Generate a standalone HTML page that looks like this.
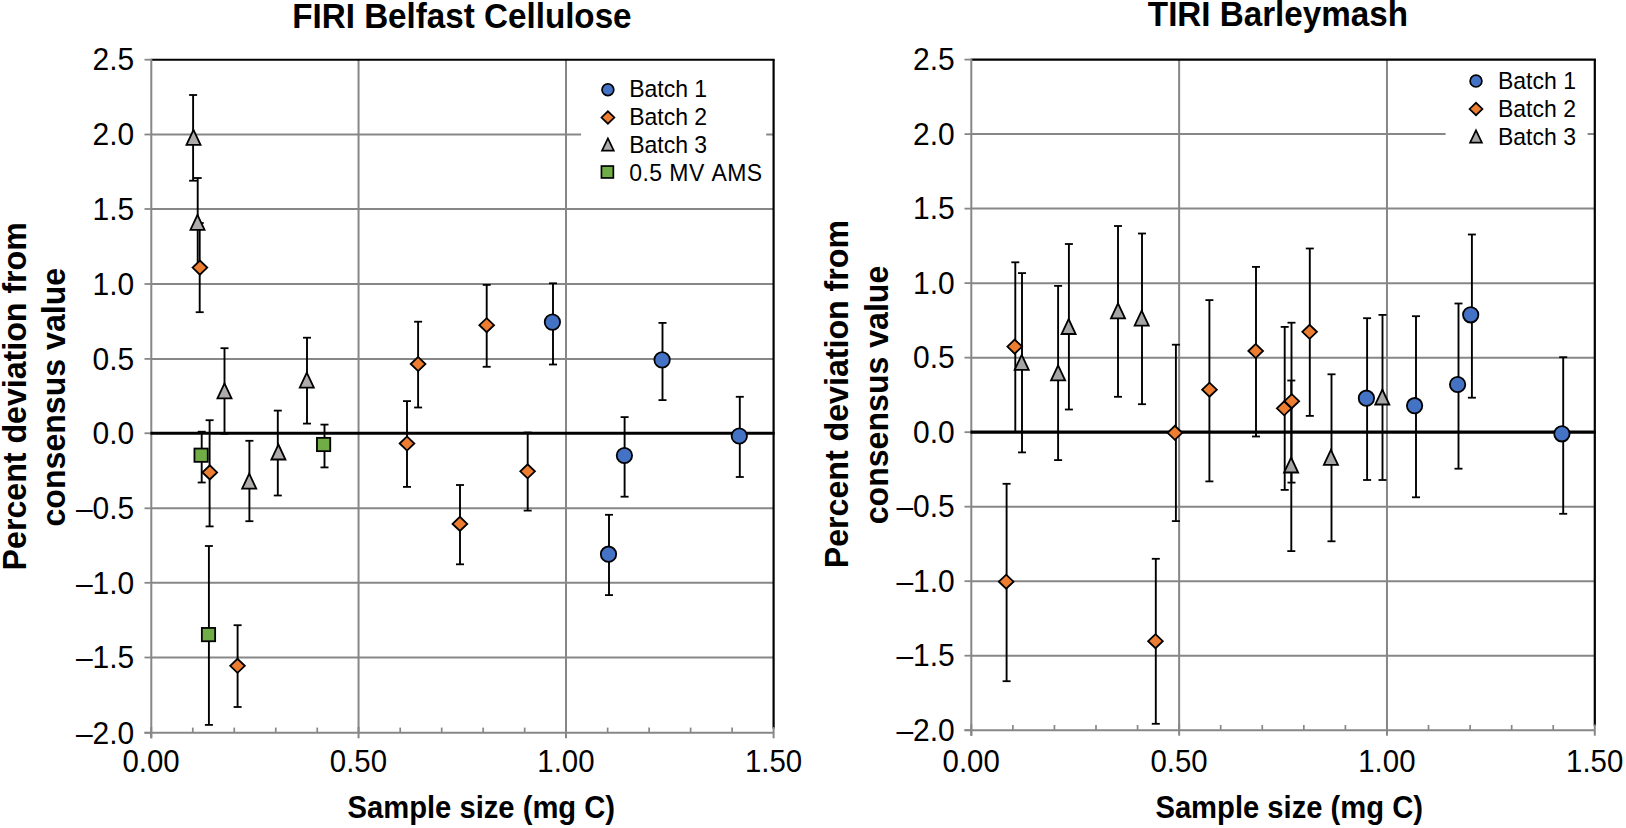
<!DOCTYPE html>
<html lang="en"><head><meta charset="utf-8"><title>Percent deviation from consensus value</title>
<style>html,body{margin:0;padding:0;background:#fff;overflow:hidden}svg{display:block}text{font-kerning:none}</style></head>
<body>
<svg width="1626" height="828" viewBox="0 0 1626 828" font-family="'Liberation Sans', Arial, Helvetica, sans-serif" fill="#000">
<rect width="1626" height="828" fill="#fff"/>
<g id="left">
<line x1="151.3" y1="134.5" x2="773.6" y2="134.5" stroke="#878787" stroke-width="2"/>
<line x1="151.3" y1="209" x2="773.6" y2="209" stroke="#878787" stroke-width="2"/>
<line x1="151.3" y1="284" x2="773.6" y2="284" stroke="#878787" stroke-width="2"/>
<line x1="151.3" y1="358.9" x2="773.6" y2="358.9" stroke="#878787" stroke-width="2"/>
<line x1="151.3" y1="508.3" x2="773.6" y2="508.3" stroke="#878787" stroke-width="2"/>
<line x1="151.3" y1="582.8" x2="773.6" y2="582.8" stroke="#878787" stroke-width="2"/>
<line x1="151.3" y1="657.5" x2="773.6" y2="657.5" stroke="#878787" stroke-width="2"/>
<line x1="358.55" y1="59.7" x2="358.55" y2="732.8" stroke="#878787" stroke-width="2"/>
<line x1="566" y1="59.7" x2="566" y2="732.8" stroke="#878787" stroke-width="2"/>
<rect x="581" y="66" width="185.2" height="128" fill="#fff"/>
<line x1="151.3" y1="59.7" x2="774.7" y2="59.7" stroke="#000" stroke-width="2.1"/>
<line x1="773.6" y1="59.7" x2="773.6" y2="728.6" stroke="#000" stroke-width="2.2"/>
<line x1="151.3" y1="58.7" x2="151.3" y2="738.3" stroke="#878787" stroke-width="2"/>
<line x1="144.5" y1="732.8" x2="773.6" y2="732.8" stroke="#878787" stroke-width="2"/>
<line x1="144.5" y1="59.7" x2="151.3" y2="59.7" stroke="#878787" stroke-width="1.8"/>
<line x1="144.5" y1="134.5" x2="151.3" y2="134.5" stroke="#878787" stroke-width="1.8"/>
<line x1="144.5" y1="209" x2="151.3" y2="209" stroke="#878787" stroke-width="1.8"/>
<line x1="144.5" y1="284" x2="151.3" y2="284" stroke="#878787" stroke-width="1.8"/>
<line x1="144.5" y1="358.9" x2="151.3" y2="358.9" stroke="#878787" stroke-width="1.8"/>
<line x1="144.5" y1="433.25" x2="151.3" y2="433.25" stroke="#878787" stroke-width="1.8"/>
<line x1="144.5" y1="508.3" x2="151.3" y2="508.3" stroke="#878787" stroke-width="1.8"/>
<line x1="144.5" y1="582.8" x2="151.3" y2="582.8" stroke="#878787" stroke-width="1.8"/>
<line x1="144.5" y1="657.5" x2="151.3" y2="657.5" stroke="#878787" stroke-width="1.8"/>
<line x1="144.5" y1="732.8" x2="151.3" y2="732.8" stroke="#878787" stroke-width="1.8"/>
<line x1="151.2" y1="727" x2="151.2" y2="738.3" stroke="#878787" stroke-width="2"/>
<line x1="358.55" y1="727" x2="358.55" y2="738.3" stroke="#878787" stroke-width="2"/>
<line x1="566" y1="727" x2="566" y2="738.3" stroke="#878787" stroke-width="2"/>
<line x1="773.6" y1="727" x2="773.6" y2="738.3" stroke="#878787" stroke-width="2"/>
<line x1="192.79" y1="727.6" x2="192.79" y2="732.8" stroke="#878787" stroke-width="1.7"/>
<line x1="234.27" y1="727.6" x2="234.27" y2="732.8" stroke="#878787" stroke-width="1.7"/>
<line x1="275.76" y1="727.6" x2="275.76" y2="732.8" stroke="#878787" stroke-width="1.7"/>
<line x1="317.25" y1="727.6" x2="317.25" y2="732.8" stroke="#878787" stroke-width="1.7"/>
<line x1="400.22" y1="727.6" x2="400.22" y2="732.8" stroke="#878787" stroke-width="1.7"/>
<line x1="441.71" y1="727.6" x2="441.71" y2="732.8" stroke="#878787" stroke-width="1.7"/>
<line x1="483.19" y1="727.6" x2="483.19" y2="732.8" stroke="#878787" stroke-width="1.7"/>
<line x1="524.68" y1="727.6" x2="524.68" y2="732.8" stroke="#878787" stroke-width="1.7"/>
<line x1="607.65" y1="727.6" x2="607.65" y2="732.8" stroke="#878787" stroke-width="1.7"/>
<line x1="649.14" y1="727.6" x2="649.14" y2="732.8" stroke="#878787" stroke-width="1.7"/>
<line x1="690.63" y1="727.6" x2="690.63" y2="732.8" stroke="#878787" stroke-width="1.7"/>
<line x1="732.11" y1="727.6" x2="732.11" y2="732.8" stroke="#878787" stroke-width="1.7"/>
<line x1="150.4" y1="433.25" x2="774.7" y2="433.25" stroke="#000" stroke-width="3.1"/>
<text transform="translate(134.3 70.4) scale(1 1.02)" font-size="30" text-anchor="end" font-weight="normal">2.5</text>
<text transform="translate(134.3 145.2) scale(1 1.02)" font-size="30" text-anchor="end" font-weight="normal">2.0</text>
<text transform="translate(134.3 219.7) scale(1 1.02)" font-size="30" text-anchor="end" font-weight="normal">1.5</text>
<text transform="translate(134.3 294.7) scale(1 1.02)" font-size="30" text-anchor="end" font-weight="normal">1.0</text>
<text transform="translate(134.3 369.6) scale(1 1.02)" font-size="30" text-anchor="end" font-weight="normal">0.5</text>
<text transform="translate(134.3 443.95) scale(1 1.02)" font-size="30" text-anchor="end" font-weight="normal">0.0</text>
<text transform="translate(134.3 519) scale(1 1.02)" font-size="30" text-anchor="end" font-weight="normal">–0.5</text>
<text transform="translate(134.3 593.5) scale(1 1.02)" font-size="30" text-anchor="end" font-weight="normal">–1.0</text>
<text transform="translate(134.3 668.2) scale(1 1.02)" font-size="30" text-anchor="end" font-weight="normal">–1.5</text>
<text transform="translate(134.3 743.5) scale(1 1.02)" font-size="30" text-anchor="end" font-weight="normal">–2.0</text>
<text transform="translate(151.1 772) scale(1 1.04)" font-size="29.4" text-anchor="middle" font-weight="normal">0.00</text>
<text transform="translate(358.45 772) scale(1 1.04)" font-size="29.4" text-anchor="middle" font-weight="normal">0.50</text>
<text transform="translate(565.9 772) scale(1 1.04)" font-size="29.4" text-anchor="middle" font-weight="normal">1.00</text>
<text transform="translate(773.5 772) scale(1 1.04)" font-size="29.4" text-anchor="middle" font-weight="normal">1.50</text>
<line x1="553" y1="283.3" x2="553" y2="364.5" stroke="#000" stroke-width="1.9"/>
<line x1="549" y1="283.3" x2="557" y2="283.3" stroke="#000" stroke-width="1.8"/>
<line x1="549" y1="364.5" x2="557" y2="364.5" stroke="#000" stroke-width="1.8"/>
<line x1="662.5" y1="322.9" x2="662.5" y2="400.1" stroke="#000" stroke-width="1.9"/>
<line x1="658.5" y1="322.9" x2="666.5" y2="322.9" stroke="#000" stroke-width="1.8"/>
<line x1="658.5" y1="400.1" x2="666.5" y2="400.1" stroke="#000" stroke-width="1.8"/>
<line x1="609" y1="514.8" x2="609" y2="595.1" stroke="#000" stroke-width="1.9"/>
<line x1="605" y1="514.8" x2="613" y2="514.8" stroke="#000" stroke-width="1.8"/>
<line x1="605" y1="595.1" x2="613" y2="595.1" stroke="#000" stroke-width="1.8"/>
<line x1="624.6" y1="417.1" x2="624.6" y2="496.7" stroke="#000" stroke-width="1.9"/>
<line x1="620.6" y1="417.1" x2="628.6" y2="417.1" stroke="#000" stroke-width="1.8"/>
<line x1="620.6" y1="496.7" x2="628.6" y2="496.7" stroke="#000" stroke-width="1.8"/>
<line x1="739.8" y1="396.8" x2="739.8" y2="477" stroke="#000" stroke-width="1.9"/>
<line x1="735.8" y1="396.8" x2="743.8" y2="396.8" stroke="#000" stroke-width="1.8"/>
<line x1="735.8" y1="477" x2="743.8" y2="477" stroke="#000" stroke-width="1.8"/>
<line x1="199.7" y1="223" x2="199.7" y2="312.2" stroke="#000" stroke-width="1.9"/>
<line x1="195.7" y1="223" x2="203.7" y2="223" stroke="#000" stroke-width="1.8"/>
<line x1="195.7" y1="312.2" x2="203.7" y2="312.2" stroke="#000" stroke-width="1.8"/>
<line x1="209.6" y1="420.2" x2="209.6" y2="526.4" stroke="#000" stroke-width="1.9"/>
<line x1="205.6" y1="420.2" x2="213.6" y2="420.2" stroke="#000" stroke-width="1.8"/>
<line x1="205.6" y1="526.4" x2="213.6" y2="526.4" stroke="#000" stroke-width="1.8"/>
<line x1="237.6" y1="625.2" x2="237.6" y2="707" stroke="#000" stroke-width="1.9"/>
<line x1="233.6" y1="625.2" x2="241.6" y2="625.2" stroke="#000" stroke-width="1.8"/>
<line x1="233.6" y1="707" x2="241.6" y2="707" stroke="#000" stroke-width="1.8"/>
<line x1="407" y1="401.1" x2="407" y2="486.9" stroke="#000" stroke-width="1.9"/>
<line x1="403" y1="401.1" x2="411" y2="401.1" stroke="#000" stroke-width="1.8"/>
<line x1="403" y1="486.9" x2="411" y2="486.9" stroke="#000" stroke-width="1.8"/>
<line x1="418.1" y1="321.7" x2="418.1" y2="407.5" stroke="#000" stroke-width="1.9"/>
<line x1="414.1" y1="321.7" x2="422.1" y2="321.7" stroke="#000" stroke-width="1.8"/>
<line x1="414.1" y1="407.5" x2="422.1" y2="407.5" stroke="#000" stroke-width="1.8"/>
<line x1="460" y1="485" x2="460" y2="564.3" stroke="#000" stroke-width="1.9"/>
<line x1="456" y1="485" x2="464" y2="485" stroke="#000" stroke-width="1.8"/>
<line x1="456" y1="564.3" x2="464" y2="564.3" stroke="#000" stroke-width="1.8"/>
<line x1="486.7" y1="284.9" x2="486.7" y2="366.8" stroke="#000" stroke-width="1.9"/>
<line x1="482.7" y1="284.9" x2="490.7" y2="284.9" stroke="#000" stroke-width="1.8"/>
<line x1="482.7" y1="366.8" x2="490.7" y2="366.8" stroke="#000" stroke-width="1.8"/>
<line x1="527.7" y1="432.5" x2="527.7" y2="510.6" stroke="#000" stroke-width="1.9"/>
<line x1="523.7" y1="432.5" x2="531.7" y2="432.5" stroke="#000" stroke-width="1.8"/>
<line x1="523.7" y1="510.6" x2="531.7" y2="510.6" stroke="#000" stroke-width="1.8"/>
<line x1="193.1" y1="95" x2="193.1" y2="180.7" stroke="#000" stroke-width="1.9"/>
<line x1="189.1" y1="95" x2="197.1" y2="95" stroke="#000" stroke-width="1.8"/>
<line x1="189.1" y1="180.7" x2="197.1" y2="180.7" stroke="#000" stroke-width="1.8"/>
<line x1="197.7" y1="178" x2="197.7" y2="267" stroke="#000" stroke-width="1.9"/>
<line x1="193.7" y1="178" x2="201.7" y2="178" stroke="#000" stroke-width="1.8"/>
<line x1="193.7" y1="267" x2="201.7" y2="267" stroke="#000" stroke-width="1.8"/>
<line x1="224.5" y1="348.2" x2="224.5" y2="433.8" stroke="#000" stroke-width="1.9"/>
<line x1="220.5" y1="348.2" x2="228.5" y2="348.2" stroke="#000" stroke-width="1.8"/>
<line x1="220.5" y1="433.8" x2="228.5" y2="433.8" stroke="#000" stroke-width="1.8"/>
<line x1="249.4" y1="440.8" x2="249.4" y2="521.2" stroke="#000" stroke-width="1.9"/>
<line x1="245.4" y1="440.8" x2="253.4" y2="440.8" stroke="#000" stroke-width="1.8"/>
<line x1="245.4" y1="521.2" x2="253.4" y2="521.2" stroke="#000" stroke-width="1.8"/>
<line x1="277.8" y1="410.6" x2="277.8" y2="495.5" stroke="#000" stroke-width="1.9"/>
<line x1="273.8" y1="410.6" x2="281.8" y2="410.6" stroke="#000" stroke-width="1.8"/>
<line x1="273.8" y1="495.5" x2="281.8" y2="495.5" stroke="#000" stroke-width="1.8"/>
<line x1="307" y1="337.7" x2="307" y2="423.6" stroke="#000" stroke-width="1.9"/>
<line x1="303" y1="337.7" x2="311" y2="337.7" stroke="#000" stroke-width="1.8"/>
<line x1="303" y1="423.6" x2="311" y2="423.6" stroke="#000" stroke-width="1.8"/>
<line x1="201.7" y1="431.7" x2="201.7" y2="482.5" stroke="#000" stroke-width="1.9"/>
<line x1="197.7" y1="431.7" x2="205.7" y2="431.7" stroke="#000" stroke-width="1.8"/>
<line x1="197.7" y1="482.5" x2="205.7" y2="482.5" stroke="#000" stroke-width="1.8"/>
<line x1="324.5" y1="424.6" x2="324.5" y2="467.4" stroke="#000" stroke-width="1.9"/>
<line x1="320.5" y1="424.6" x2="328.5" y2="424.6" stroke="#000" stroke-width="1.8"/>
<line x1="320.5" y1="467.4" x2="328.5" y2="467.4" stroke="#000" stroke-width="1.8"/>
<line x1="208.9" y1="546" x2="208.9" y2="724.9" stroke="#000" stroke-width="1.9"/>
<line x1="204.9" y1="546" x2="212.9" y2="546" stroke="#000" stroke-width="1.8"/>
<line x1="204.9" y1="724.9" x2="212.9" y2="724.9" stroke="#000" stroke-width="1.8"/>
<circle cx="552.4" cy="322.1" r="7.7" fill="#4472C4" stroke="#000" stroke-width="1.8"/>
<circle cx="662.1" cy="359.9" r="7.7" fill="#4472C4" stroke="#000" stroke-width="1.8"/>
<circle cx="608.5" cy="554.2" r="7.7" fill="#4472C4" stroke="#000" stroke-width="1.8"/>
<circle cx="624.4" cy="455.5" r="7.7" fill="#4472C4" stroke="#000" stroke-width="1.8"/>
<circle cx="739.3" cy="436" r="7.7" fill="#4472C4" stroke="#000" stroke-width="1.8"/>
<polygon points="192.55,267.6 199.9,260.55 207.25,267.6 199.9,274.65" fill="#ED7D31" stroke="#000" stroke-width="1.8" stroke-linejoin="miter"/>
<polygon points="202.45,472.4 209.8,465.35 217.15,472.4 209.8,479.45" fill="#ED7D31" stroke="#000" stroke-width="1.8" stroke-linejoin="miter"/>
<polygon points="230.15,665.8 237.5,658.75 244.85,665.8 237.5,672.85" fill="#ED7D31" stroke="#000" stroke-width="1.8" stroke-linejoin="miter"/>
<polygon points="399.65,443.5 407,436.45 414.35,443.5 407,450.55" fill="#ED7D31" stroke="#000" stroke-width="1.8" stroke-linejoin="miter"/>
<polygon points="410.75,364 418.1,356.95 425.45,364 418.1,371.05" fill="#ED7D31" stroke="#000" stroke-width="1.8" stroke-linejoin="miter"/>
<polygon points="452.55,523.9 459.9,516.85 467.25,523.9 459.9,530.95" fill="#ED7D31" stroke="#000" stroke-width="1.8" stroke-linejoin="miter"/>
<polygon points="479.35,325.2 486.7,318.15 494.05,325.2 486.7,332.25" fill="#ED7D31" stroke="#000" stroke-width="1.8" stroke-linejoin="miter"/>
<polygon points="520.25,471.3 527.6,464.25 534.95,471.3 527.6,478.35" fill="#ED7D31" stroke="#000" stroke-width="1.8" stroke-linejoin="miter"/>
<polygon points="193.5,129.8 200.55,144.8 186.45,144.8" fill="#AFABAB" stroke="#000" stroke-width="1.8" stroke-linejoin="miter"/>
<polygon points="197.5,214.9 204.55,229.9 190.45,229.9" fill="#AFABAB" stroke="#000" stroke-width="1.8" stroke-linejoin="miter"/>
<polygon points="224.5,383.3 231.55,398.3 217.45,398.3" fill="#AFABAB" stroke="#000" stroke-width="1.8" stroke-linejoin="miter"/>
<polygon points="249.2,473.6 256.25,488.6 242.15,488.6" fill="#AFABAB" stroke="#000" stroke-width="1.8" stroke-linejoin="miter"/>
<polygon points="278.4,444.5 285.45,459.5 271.35,459.5" fill="#AFABAB" stroke="#000" stroke-width="1.8" stroke-linejoin="miter"/>
<polygon points="306.8,372.6 313.85,387.6 299.75,387.6" fill="#AFABAB" stroke="#000" stroke-width="1.8" stroke-linejoin="miter"/>
<rect x="194.45" y="448.55" width="13.3" height="13.3" fill="#70AD47" stroke="#000" stroke-width="1.8"/>
<rect x="316.95" y="437.85" width="13.3" height="13.3" fill="#70AD47" stroke="#000" stroke-width="1.8"/>
<rect x="201.85" y="627.95" width="13.3" height="13.3" fill="#70AD47" stroke="#000" stroke-width="1.8"/>
<circle cx="607.9" cy="89.8" r="5.9" fill="#4472C4" stroke="#000" stroke-width="1.7"/>
<polygon points="601.45,117.5 607.9,111.3 614.35,117.5 607.9,123.7" fill="#ED7D31" stroke="#000" stroke-width="1.7" stroke-linejoin="miter"/>
<polygon points="607.9,138.4 613.8,150.7 602,150.7" fill="#AFABAB" stroke="#000" stroke-width="1.7" stroke-linejoin="miter"/>
<rect x="601.45" y="166.05" width="11.9" height="11.9" fill="#70AD47" stroke="#000" stroke-width="1.7"/>
<text transform="translate(629.2 97) scale(1 1.02)" font-size="23" text-anchor="start" font-weight="normal">Batch 1</text>
<text transform="translate(629.2 125) scale(1 1.02)" font-size="23" text-anchor="start" font-weight="normal">Batch 2</text>
<text transform="translate(629.2 153) scale(1 1.02)" font-size="23" text-anchor="start" font-weight="normal">Batch 3</text>
<text transform="translate(629.2 181) scale(1 1.02)" font-size="23" text-anchor="start" font-weight="normal" textLength="133" lengthAdjust="spacing">0.5 MV AMS</text>
<text transform="translate(461.9 28) scale(1 1.03)" font-size="33.2" text-anchor="middle" font-weight="bold">FIRI Belfast Cellulose</text>
<text transform="translate(481.3 818) scale(1 1.07)" font-size="29.2" text-anchor="middle" font-weight="bold">Sample size (mg C)</text>
<text transform="translate(26.4 396.3) rotate(-90) scale(1 1.04)" font-size="32.15" text-anchor="middle" font-weight="bold">Percent deviation from</text>
<text transform="translate(64.8 397.2) rotate(-90) scale(1 1.04)" font-size="32.1" text-anchor="middle" font-weight="bold">consensus value</text>
</g>
<g id="right">
<line x1="971.3" y1="134.11" x2="1594.8" y2="134.11" stroke="#878787" stroke-width="2"/>
<line x1="971.3" y1="208.62" x2="1594.8" y2="208.62" stroke="#878787" stroke-width="2"/>
<line x1="971.3" y1="283.13" x2="1594.8" y2="283.13" stroke="#878787" stroke-width="2"/>
<line x1="971.3" y1="357.64" x2="1594.8" y2="357.64" stroke="#878787" stroke-width="2"/>
<line x1="971.3" y1="506.67" x2="1594.8" y2="506.67" stroke="#878787" stroke-width="2"/>
<line x1="971.3" y1="581.18" x2="1594.8" y2="581.18" stroke="#878787" stroke-width="2"/>
<line x1="971.3" y1="655.69" x2="1594.8" y2="655.69" stroke="#878787" stroke-width="2"/>
<line x1="1179.13" y1="59.6" x2="1179.13" y2="730.2" stroke="#878787" stroke-width="2"/>
<line x1="1386.97" y1="59.6" x2="1386.97" y2="730.2" stroke="#878787" stroke-width="2"/>
<rect x="1445.6" y="64" width="142" height="96" fill="#fff"/>
<line x1="971.3" y1="59.6" x2="1595.9" y2="59.6" stroke="#000" stroke-width="2.1"/>
<line x1="1594.8" y1="59.6" x2="1594.8" y2="726" stroke="#000" stroke-width="2.2"/>
<line x1="971.3" y1="58.6" x2="971.3" y2="735.7" stroke="#878787" stroke-width="2"/>
<line x1="964.5" y1="730.2" x2="1594.8" y2="730.2" stroke="#878787" stroke-width="2"/>
<line x1="964.5" y1="59.6" x2="971.3" y2="59.6" stroke="#878787" stroke-width="1.8"/>
<line x1="964.5" y1="134.11" x2="971.3" y2="134.11" stroke="#878787" stroke-width="1.8"/>
<line x1="964.5" y1="208.62" x2="971.3" y2="208.62" stroke="#878787" stroke-width="1.8"/>
<line x1="964.5" y1="283.13" x2="971.3" y2="283.13" stroke="#878787" stroke-width="1.8"/>
<line x1="964.5" y1="357.64" x2="971.3" y2="357.64" stroke="#878787" stroke-width="1.8"/>
<line x1="964.5" y1="432.16" x2="971.3" y2="432.16" stroke="#878787" stroke-width="1.8"/>
<line x1="964.5" y1="506.67" x2="971.3" y2="506.67" stroke="#878787" stroke-width="1.8"/>
<line x1="964.5" y1="581.18" x2="971.3" y2="581.18" stroke="#878787" stroke-width="1.8"/>
<line x1="964.5" y1="655.69" x2="971.3" y2="655.69" stroke="#878787" stroke-width="1.8"/>
<line x1="964.5" y1="730.2" x2="971.3" y2="730.2" stroke="#878787" stroke-width="1.8"/>
<line x1="971.3" y1="724.4" x2="971.3" y2="735.7" stroke="#878787" stroke-width="2"/>
<line x1="1179.13" y1="724.4" x2="1179.13" y2="735.7" stroke="#878787" stroke-width="2"/>
<line x1="1386.97" y1="724.4" x2="1386.97" y2="735.7" stroke="#878787" stroke-width="2"/>
<line x1="1594.8" y1="724.4" x2="1594.8" y2="735.7" stroke="#878787" stroke-width="2"/>
<line x1="1012.87" y1="725" x2="1012.87" y2="730.2" stroke="#878787" stroke-width="1.7"/>
<line x1="1054.43" y1="725" x2="1054.43" y2="730.2" stroke="#878787" stroke-width="1.7"/>
<line x1="1096" y1="725" x2="1096" y2="730.2" stroke="#878787" stroke-width="1.7"/>
<line x1="1137.57" y1="725" x2="1137.57" y2="730.2" stroke="#878787" stroke-width="1.7"/>
<line x1="1220.7" y1="725" x2="1220.7" y2="730.2" stroke="#878787" stroke-width="1.7"/>
<line x1="1262.27" y1="725" x2="1262.27" y2="730.2" stroke="#878787" stroke-width="1.7"/>
<line x1="1303.83" y1="725" x2="1303.83" y2="730.2" stroke="#878787" stroke-width="1.7"/>
<line x1="1345.4" y1="725" x2="1345.4" y2="730.2" stroke="#878787" stroke-width="1.7"/>
<line x1="1428.53" y1="725" x2="1428.53" y2="730.2" stroke="#878787" stroke-width="1.7"/>
<line x1="1470.1" y1="725" x2="1470.1" y2="730.2" stroke="#878787" stroke-width="1.7"/>
<line x1="1511.67" y1="725" x2="1511.67" y2="730.2" stroke="#878787" stroke-width="1.7"/>
<line x1="1553.23" y1="725" x2="1553.23" y2="730.2" stroke="#878787" stroke-width="1.7"/>
<line x1="970.4" y1="432.16" x2="1595.9" y2="432.16" stroke="#000" stroke-width="3.1"/>
<text transform="translate(954.8 70.3) scale(1 1.02)" font-size="30" text-anchor="end" font-weight="normal">2.5</text>
<text transform="translate(954.8 144.81) scale(1 1.02)" font-size="30" text-anchor="end" font-weight="normal">2.0</text>
<text transform="translate(954.8 219.32) scale(1 1.02)" font-size="30" text-anchor="end" font-weight="normal">1.5</text>
<text transform="translate(954.8 293.83) scale(1 1.02)" font-size="30" text-anchor="end" font-weight="normal">1.0</text>
<text transform="translate(954.8 368.34) scale(1 1.02)" font-size="30" text-anchor="end" font-weight="normal">0.5</text>
<text transform="translate(954.8 442.86) scale(1 1.02)" font-size="30" text-anchor="end" font-weight="normal">0.0</text>
<text transform="translate(954.8 517.37) scale(1 1.02)" font-size="30" text-anchor="end" font-weight="normal">–0.5</text>
<text transform="translate(954.8 591.88) scale(1 1.02)" font-size="30" text-anchor="end" font-weight="normal">–1.0</text>
<text transform="translate(954.8 666.39) scale(1 1.02)" font-size="30" text-anchor="end" font-weight="normal">–1.5</text>
<text transform="translate(954.8 740.9) scale(1 1.02)" font-size="30" text-anchor="end" font-weight="normal">–2.0</text>
<text transform="translate(971.2 772) scale(1 1.04)" font-size="29.4" text-anchor="middle" font-weight="normal">0.00</text>
<text transform="translate(1179.03 772) scale(1 1.04)" font-size="29.4" text-anchor="middle" font-weight="normal">0.50</text>
<text transform="translate(1386.87 772) scale(1 1.04)" font-size="29.4" text-anchor="middle" font-weight="normal">1.00</text>
<text transform="translate(1594.7 772) scale(1 1.04)" font-size="29.4" text-anchor="middle" font-weight="normal">1.50</text>
<line x1="1367.1" y1="318.2" x2="1367.1" y2="480" stroke="#000" stroke-width="1.9"/>
<line x1="1363.1" y1="318.2" x2="1371.1" y2="318.2" stroke="#000" stroke-width="1.8"/>
<line x1="1363.1" y1="480" x2="1371.1" y2="480" stroke="#000" stroke-width="1.8"/>
<line x1="1416" y1="316.2" x2="1416" y2="497.3" stroke="#000" stroke-width="1.9"/>
<line x1="1412" y1="316.2" x2="1420" y2="316.2" stroke="#000" stroke-width="1.8"/>
<line x1="1412" y1="497.3" x2="1420" y2="497.3" stroke="#000" stroke-width="1.8"/>
<line x1="1458.5" y1="303.5" x2="1458.5" y2="468.7" stroke="#000" stroke-width="1.9"/>
<line x1="1454.5" y1="303.5" x2="1462.5" y2="303.5" stroke="#000" stroke-width="1.8"/>
<line x1="1454.5" y1="468.7" x2="1462.5" y2="468.7" stroke="#000" stroke-width="1.8"/>
<line x1="1471.9" y1="234.5" x2="1471.9" y2="397.7" stroke="#000" stroke-width="1.9"/>
<line x1="1467.9" y1="234.5" x2="1475.9" y2="234.5" stroke="#000" stroke-width="1.8"/>
<line x1="1467.9" y1="397.7" x2="1475.9" y2="397.7" stroke="#000" stroke-width="1.8"/>
<line x1="1563.2" y1="357.2" x2="1563.2" y2="513.8" stroke="#000" stroke-width="1.9"/>
<line x1="1559.2" y1="357.2" x2="1567.2" y2="357.2" stroke="#000" stroke-width="1.8"/>
<line x1="1559.2" y1="513.8" x2="1567.2" y2="513.8" stroke="#000" stroke-width="1.8"/>
<line x1="1015.3" y1="262.3" x2="1015.3" y2="431.9" stroke="#000" stroke-width="1.9"/>
<line x1="1011.3" y1="262.3" x2="1019.3" y2="262.3" stroke="#000" stroke-width="1.8"/>
<line x1="1011.3" y1="431.9" x2="1019.3" y2="431.9" stroke="#000" stroke-width="1.8"/>
<line x1="1006.6" y1="483.8" x2="1006.6" y2="681.2" stroke="#000" stroke-width="1.9"/>
<line x1="1002.6" y1="483.8" x2="1010.6" y2="483.8" stroke="#000" stroke-width="1.8"/>
<line x1="1002.6" y1="681.2" x2="1010.6" y2="681.2" stroke="#000" stroke-width="1.8"/>
<line x1="1155.8" y1="558.8" x2="1155.8" y2="723.8" stroke="#000" stroke-width="1.9"/>
<line x1="1151.8" y1="558.8" x2="1159.8" y2="558.8" stroke="#000" stroke-width="1.8"/>
<line x1="1151.8" y1="723.8" x2="1159.8" y2="723.8" stroke="#000" stroke-width="1.8"/>
<line x1="1175.9" y1="344.7" x2="1175.9" y2="521.1" stroke="#000" stroke-width="1.9"/>
<line x1="1171.9" y1="344.7" x2="1179.9" y2="344.7" stroke="#000" stroke-width="1.8"/>
<line x1="1171.9" y1="521.1" x2="1179.9" y2="521.1" stroke="#000" stroke-width="1.8"/>
<line x1="1209.4" y1="300.1" x2="1209.4" y2="481.4" stroke="#000" stroke-width="1.9"/>
<line x1="1205.4" y1="300.1" x2="1213.4" y2="300.1" stroke="#000" stroke-width="1.8"/>
<line x1="1205.4" y1="481.4" x2="1213.4" y2="481.4" stroke="#000" stroke-width="1.8"/>
<line x1="1256" y1="266.9" x2="1256" y2="436.5" stroke="#000" stroke-width="1.9"/>
<line x1="1252" y1="266.9" x2="1260" y2="266.9" stroke="#000" stroke-width="1.8"/>
<line x1="1252" y1="436.5" x2="1260" y2="436.5" stroke="#000" stroke-width="1.8"/>
<line x1="1284.7" y1="326.9" x2="1284.7" y2="489.9" stroke="#000" stroke-width="1.9"/>
<line x1="1280.7" y1="326.9" x2="1288.7" y2="326.9" stroke="#000" stroke-width="1.8"/>
<line x1="1280.7" y1="489.9" x2="1288.7" y2="489.9" stroke="#000" stroke-width="1.8"/>
<line x1="1291.5" y1="322.7" x2="1291.5" y2="482.6" stroke="#000" stroke-width="1.9"/>
<line x1="1287.5" y1="322.7" x2="1295.5" y2="322.7" stroke="#000" stroke-width="1.8"/>
<line x1="1287.5" y1="482.6" x2="1295.5" y2="482.6" stroke="#000" stroke-width="1.8"/>
<line x1="1309.8" y1="248.5" x2="1309.8" y2="415.9" stroke="#000" stroke-width="1.9"/>
<line x1="1305.8" y1="248.5" x2="1313.8" y2="248.5" stroke="#000" stroke-width="1.8"/>
<line x1="1305.8" y1="415.9" x2="1313.8" y2="415.9" stroke="#000" stroke-width="1.8"/>
<line x1="1022" y1="273.1" x2="1022" y2="452.4" stroke="#000" stroke-width="1.9"/>
<line x1="1018" y1="273.1" x2="1026" y2="273.1" stroke="#000" stroke-width="1.8"/>
<line x1="1018" y1="452.4" x2="1026" y2="452.4" stroke="#000" stroke-width="1.8"/>
<line x1="1058.1" y1="285.9" x2="1058.1" y2="460.1" stroke="#000" stroke-width="1.9"/>
<line x1="1054.1" y1="285.9" x2="1062.1" y2="285.9" stroke="#000" stroke-width="1.8"/>
<line x1="1054.1" y1="460.1" x2="1062.1" y2="460.1" stroke="#000" stroke-width="1.8"/>
<line x1="1068.9" y1="244" x2="1068.9" y2="409.5" stroke="#000" stroke-width="1.9"/>
<line x1="1064.9" y1="244" x2="1072.9" y2="244" stroke="#000" stroke-width="1.8"/>
<line x1="1064.9" y1="409.5" x2="1072.9" y2="409.5" stroke="#000" stroke-width="1.8"/>
<line x1="1118" y1="226" x2="1118" y2="396.8" stroke="#000" stroke-width="1.9"/>
<line x1="1114" y1="226" x2="1122" y2="226" stroke="#000" stroke-width="1.8"/>
<line x1="1114" y1="396.8" x2="1122" y2="396.8" stroke="#000" stroke-width="1.8"/>
<line x1="1142" y1="233.5" x2="1142" y2="404.2" stroke="#000" stroke-width="1.9"/>
<line x1="1138" y1="233.5" x2="1146" y2="233.5" stroke="#000" stroke-width="1.8"/>
<line x1="1138" y1="404.2" x2="1146" y2="404.2" stroke="#000" stroke-width="1.8"/>
<line x1="1291.3" y1="380.5" x2="1291.3" y2="551.1" stroke="#000" stroke-width="1.9"/>
<line x1="1287.3" y1="380.5" x2="1295.3" y2="380.5" stroke="#000" stroke-width="1.8"/>
<line x1="1287.3" y1="551.1" x2="1295.3" y2="551.1" stroke="#000" stroke-width="1.8"/>
<line x1="1331.5" y1="374.3" x2="1331.5" y2="541.3" stroke="#000" stroke-width="1.9"/>
<line x1="1327.5" y1="374.3" x2="1335.5" y2="374.3" stroke="#000" stroke-width="1.8"/>
<line x1="1327.5" y1="541.3" x2="1335.5" y2="541.3" stroke="#000" stroke-width="1.8"/>
<line x1="1382.5" y1="314.9" x2="1382.5" y2="480" stroke="#000" stroke-width="1.9"/>
<line x1="1378.5" y1="314.9" x2="1386.5" y2="314.9" stroke="#000" stroke-width="1.8"/>
<line x1="1378.5" y1="480" x2="1386.5" y2="480" stroke="#000" stroke-width="1.8"/>
<circle cx="1366.4" cy="398.2" r="7.7" fill="#4472C4" stroke="#000" stroke-width="1.8"/>
<circle cx="1414.6" cy="405.7" r="7.7" fill="#4472C4" stroke="#000" stroke-width="1.8"/>
<circle cx="1457.6" cy="384.5" r="7.7" fill="#4472C4" stroke="#000" stroke-width="1.8"/>
<circle cx="1470.7" cy="314.8" r="7.7" fill="#4472C4" stroke="#000" stroke-width="1.8"/>
<circle cx="1561.9" cy="433.8" r="7.7" fill="#4472C4" stroke="#000" stroke-width="1.8"/>
<polygon points="1007.35,346.6 1014.7,339.55 1022.05,346.6 1014.7,353.65" fill="#ED7D31" stroke="#000" stroke-width="1.8" stroke-linejoin="miter"/>
<polygon points="998.85,581.7 1006.2,574.65 1013.55,581.7 1006.2,588.75" fill="#ED7D31" stroke="#000" stroke-width="1.8" stroke-linejoin="miter"/>
<polygon points="1148.15,641.2 1155.5,634.15 1162.85,641.2 1155.5,648.25" fill="#ED7D31" stroke="#000" stroke-width="1.8" stroke-linejoin="miter"/>
<polygon points="1167.55,432.8 1174.9,425.75 1182.25,432.8 1174.9,439.85" fill="#ED7D31" stroke="#000" stroke-width="1.8" stroke-linejoin="miter"/>
<polygon points="1202.15,389.7 1209.5,382.65 1216.85,389.7 1209.5,396.75" fill="#ED7D31" stroke="#000" stroke-width="1.8" stroke-linejoin="miter"/>
<polygon points="1248.35,351 1255.7,343.95 1263.05,351 1255.7,358.05" fill="#ED7D31" stroke="#000" stroke-width="1.8" stroke-linejoin="miter"/>
<polygon points="1276.85,408.3 1284.2,401.25 1291.55,408.3 1284.2,415.35" fill="#ED7D31" stroke="#000" stroke-width="1.8" stroke-linejoin="miter"/>
<polygon points="1284.45,401.2 1291.8,394.15 1299.15,401.2 1291.8,408.25" fill="#ED7D31" stroke="#000" stroke-width="1.8" stroke-linejoin="miter"/>
<polygon points="1302.25,331.8 1309.6,324.75 1316.95,331.8 1309.6,338.85" fill="#ED7D31" stroke="#000" stroke-width="1.8" stroke-linejoin="miter"/>
<polygon points="1021.7,354.8 1028.75,369.8 1014.65,369.8" fill="#A5A5A5" stroke="#000" stroke-width="1.8" stroke-linejoin="miter"/>
<polygon points="1058.1,365.3 1065.15,380.3 1051.05,380.3" fill="#A5A5A5" stroke="#000" stroke-width="1.8" stroke-linejoin="miter"/>
<polygon points="1068.6,319 1075.65,334 1061.55,334" fill="#A5A5A5" stroke="#000" stroke-width="1.8" stroke-linejoin="miter"/>
<polygon points="1118,303.3 1125.05,318.3 1110.95,318.3" fill="#A5A5A5" stroke="#000" stroke-width="1.8" stroke-linejoin="miter"/>
<polygon points="1141.7,310.7 1148.75,325.7 1134.65,325.7" fill="#A5A5A5" stroke="#000" stroke-width="1.8" stroke-linejoin="miter"/>
<polygon points="1291.1,457.5 1298.15,472.5 1284.05,472.5" fill="#A5A5A5" stroke="#000" stroke-width="1.8" stroke-linejoin="miter"/>
<polygon points="1330.9,449.9 1337.95,464.9 1323.85,464.9" fill="#A5A5A5" stroke="#000" stroke-width="1.8" stroke-linejoin="miter"/>
<polygon points="1382.3,389.5 1389.35,404.5 1375.25,404.5" fill="#A5A5A5" stroke="#000" stroke-width="1.8" stroke-linejoin="miter"/>
<circle cx="1476" cy="81.1" r="5.9" fill="#4472C4" stroke="#000" stroke-width="1.7"/>
<polygon points="1469.55,109 1476,102.8 1482.45,109 1476,115.2" fill="#ED7D31" stroke="#000" stroke-width="1.7" stroke-linejoin="miter"/>
<polygon points="1476,130.3 1481.9,142.6 1470.1,142.6" fill="#A5A5A5" stroke="#000" stroke-width="1.7" stroke-linejoin="miter"/>
<text transform="translate(1498 88.8) scale(1 1.02)" font-size="23" text-anchor="start" font-weight="normal">Batch 1</text>
<text transform="translate(1498 116.9) scale(1 1.02)" font-size="23" text-anchor="start" font-weight="normal">Batch 2</text>
<text transform="translate(1498 145) scale(1 1.02)" font-size="23" text-anchor="start" font-weight="normal">Batch 3</text>
<text transform="translate(1277.9 26) scale(1 1.03)" font-size="33.2" text-anchor="middle" font-weight="bold">TIRI Barleymash</text>
<text transform="translate(1289.2 818) scale(1 1.07)" font-size="29.2" text-anchor="middle" font-weight="bold">Sample size (mg C)</text>
<text transform="translate(848.3 394.1) rotate(-90) scale(1 1.04)" font-size="32.15" text-anchor="middle" font-weight="bold">Percent deviation from</text>
<text transform="translate(887.5 395) rotate(-90) scale(1 1.04)" font-size="32.1" text-anchor="middle" font-weight="bold">consensus value</text>
</g>
</svg>
</body></html>
